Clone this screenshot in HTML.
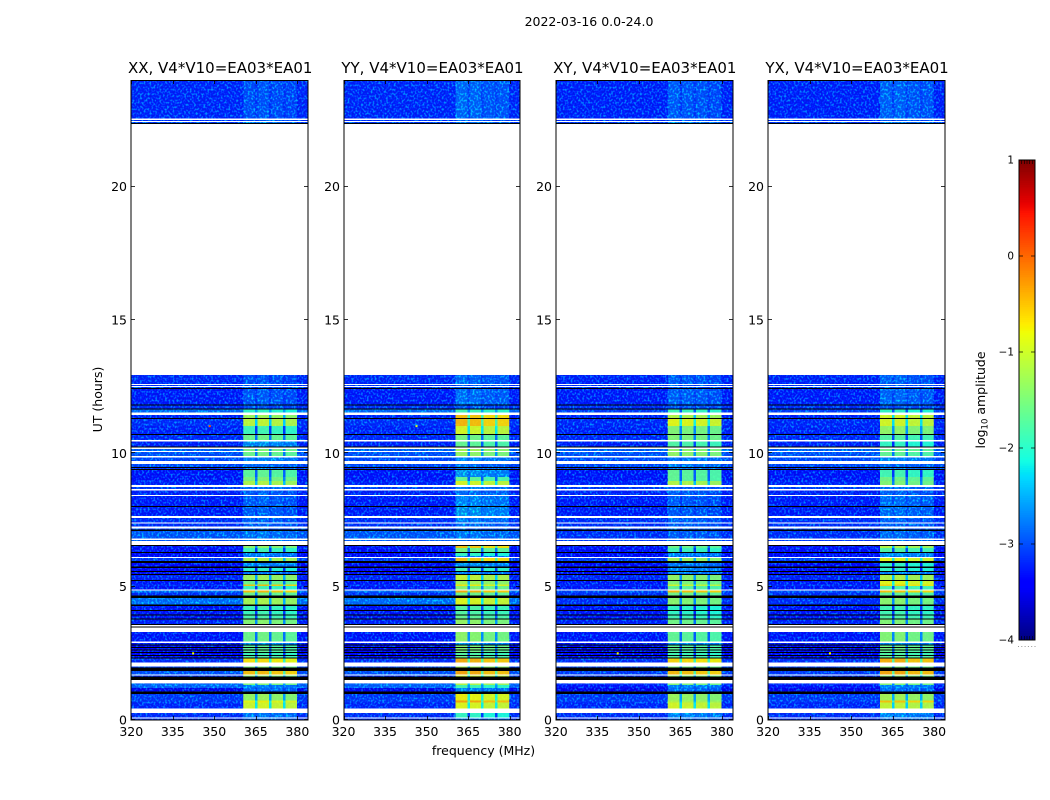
<!DOCTYPE html>
<html lang="en">
<head>
<meta charset="utf-8">
<title>Dynamic spectra 2022-03-16</title>
<style>
html,body{margin:0;padding:0;background:#fff;width:1050px;height:800px;overflow:hidden}
svg{display:block;font-family:"DejaVu Sans","Liberation Sans",sans-serif;fill:#000}
</style>
</head>
<body>
<svg id="figure" xmlns="http://www.w3.org/2000/svg" width="1050" height="800" viewBox="0 0 1050 800">
<defs>
<filter id="speckle" x="0" y="0" width="100%" height="100%" color-interpolation-filters="sRGB">
<feTurbulence type="fractalNoise" baseFrequency="0.52 0.46" numOctaves="1" seed="7"/>
<feColorMatrix type="matrix" values="0 0 0 0 0  4.2 0 0 0 -2.05  0.9 0 0 0 0.55  0 0 0 0 1"/>
</filter>
</defs>
<text x="589" y="26" font-size="12.5" text-anchor="middle">2022-03-16 0.0-24.0</text>
<text x="483.5" y="755" font-size="12.5" text-anchor="middle">frequency (MHz)</text>
<text transform="translate(102,399.5) rotate(-90)" font-size="12.5" text-anchor="middle">UT (hours)</text>
<text transform="translate(985,400) rotate(-90)" font-size="12.5" text-anchor="middle">log<tspan font-size="8.5" dy="2.5">10</tspan><tspan dy="-2.5"> amplitude</tspan></text>
</svg>
<script>
const W = null;
const K = -9;
const panelTitles = ['XX, V4*V10=EA03*EA01', 'YY, V4*V10=EA03*EA01', 'XY, V4*V10=EA03*EA01', 'YX, V4*V10=EA03*EA01'];
const freqTicks = [320, 335, 350, 365, 380];
const hourTicks = [0, 5, 10, 15, 20];
const colorTicks = [1, 0, -1, -2, -3, -4];
const bandEdges = [24,22.556,22.5,22.463,22.425,22.388,22.35,12.938,12.6,12.563,
12.525,12.488,12.45,12.413,11.831,11.794,11.681,11.644,11.531,11.438,
11.325,11.288,11.025,10.725,10.688,10.5,10.444,10.256,10.219,10.163,
10.088,10.05,9.9,9.844,9.713,9.6,9.488,9.45,9.413,9.375,
9.113,8.963,8.813,8.738,8.663,8.606,8.438,8.4,8.025,7.988,
7.65,7.575,7.406,7.369,7.256,7.181,7.144,7.088,6.806,6.75,
6.713,6.563,6.525,6.45,6.3,6.263,6.15,6.113,6.075,5.963,
5.888,5.756,5.7,5.588,5.55,5.475,5.438,5.25,5.213,5.081,
5.025,4.894,4.856,4.781,4.669,4.575,4.331,4.275,4.125,4.088,
3.956,3.919,3.806,3.769,3.6,3.563,3.506,3.469,3.3,2.944,
2.888,2.831,2.794,2.738,2.7,2.644,2.606,2.55,2.513,2.438,
2.4,2.344,2.306,2.156,2.006,1.969,1.838,1.706,1.669,1.624,
1.5,1.376,1.313,1.2,1.069,0.975,0.731,0.656,0.439,0.263,
0.094,0.056,0];
const offCopol = [-3.05,W,-3,W,-2.9,K,W,-3.05,W,-3,
W,-3,K,-3.15,K,-3,K,-2.5,W,-3.1,
K,-3,-3.1,K,-3.05,W,-3.1,K,W,-2.6,
W,-2.7,W,-2.8,W,-2.8,K,-3,K,-3.2,
-3.2,-3.1,W,-2.9,W,-3.1,W,-3.15,K,-3.15,
W,-3,W,-3,W,-2.9,K,-2.65,W,-2.6,
W,K,-3.2,-3.25,K,-3.3,-3.4,W,-2.9,K,
-3.3,K,-3.3,K,-3.3,K,-3.1,K,-3.2,-3,
-3.2,W,-2.5,-3,K,-2.45,K,-3.2,K,-3.2,
K,-3.2,K,-3.1,K,W,K,W,-3.2,W,
-3.2,K,-3.4,K,-3.4,K,-3.4,K,-3.4,K,
-3.4,K,-3,W,-2.8,K,-2.7,W,-3,K,
W,-2.5,-2.55,-3.5,K,-2.9,-2.9,-3.05,W,-3,
W,-3];
const offCross = [-3.1,W,-3,W,-2.9,K,W,-3.1,W,-3,
W,-3,K,-3.15,K,-3,K,-2.9,W,-3.1,
K,-3.05,-3.1,K,-3.05,W,-3.1,K,W,-2.6,
W,-2.7,W,-2.8,W,-2.8,K,-3,K,-3.2,
-3.2,-3.1,W,-2.9,W,-3.1,W,-3.15,K,-3.15,
W,-3,W,-3,W,-2.9,K,-3,W,-2.9,
W,K,-3.2,-3.25,K,-3.3,-3.4,W,-2.9,K,
-3.3,K,-3.3,K,-3.3,K,-3.1,K,-3.2,-3,
-3.2,W,-2.8,-3,K,-3,K,-3.2,K,-3.2,
K,-3.2,K,-3.1,K,W,K,W,-3.2,W,
-3.2,K,-3.4,K,-3.4,K,-3.4,K,-3.4,K,
-3.4,K,-3,W,-2.8,K,-2.9,W,-3,K,
W,-3,-3.2,-3.5,K,-2.9,-2.9,-3.05,W,-3,
W,-3];
const onXX = [-2.6,W,-2.6,W,-2.3,K,W,-2.6,W,-2.6,
W,-2.6,K,-2.55,K,-2.6,K,-2,W,-1.3,
K,-1.1,-1.9,K,-1.6,W,-2.1,K,W,-1.5,
W,-1.6,W,-2.2,W,-2.4,K,-2.3,K,-1.7,
-1.5,-1.2,W,-2.4,W,-2.5,W,-2.5,K,-2.5,
W,-2.5,W,-2.5,W,-2.5,K,-2.3,W,-2.3,
W,K,-1.4,-1.9,K,-2.2,-2.4,W,-1.2,K,
-2.2,K,-2,K,-2.3,K,-1.3,K,-1.6,-0.55,
-1.9,W,-0.55,-1.6,K,-1.25,K,-1.9,K,-1.9,
K,-1.8,K,-1.45,K,W,K,W,-1.6,W,
-2.1,K,-1.7,K,-1.7,K,-1.7,K,-1.9,K,
-1.8,K,-0.75,W,-1.5,K,-0.55,W,-1.4,K,
W,-1.5,-2.2,-2.4,K,-1.35,-0.85,-1,W,-2.3,
W,-2.4];
const onYY = [-2.45,W,-2.6,W,-2.3,K,W,-2.45,W,-2.6,
W,-2.6,K,-2.4,K,-2.6,K,-1.9,W,-0.6,
K,-0.55,-1,K,-1.6,W,-1.7,K,W,-1.3,
W,-1.4,W,-2.2,W,-2.4,K,-2.3,K,-2.1,
-1.7,-1,W,-2.2,W,-2.4,W,-2.2,K,-2.1,
W,-2.3,W,-2.4,W,-2.5,K,-2.3,W,-2.3,
W,K,-0.6,-1.6,K,-2,-2.2,W,-0.6,K,
-2.1,K,-1.9,K,-2.2,K,-1.1,K,-1.3,-0.8,
-1.5,W,-0.5,-1.6,K,-0.95,K,-1.8,K,-1.8,
K,-1.7,K,-1.4,K,W,K,W,-1.45,W,
-2.1,K,-1.5,K,-1.5,K,-1.6,K,-1.8,K,
-1.7,K,-0.5,W,-1.3,K,-0.45,W,-1,K,
W,-1.2,-1.9,-2.2,K,-0.85,-0.45,-0.95,W,-2,
W,-2.3];
const onXY = [-2.55,W,-2.6,W,-2.3,K,W,-2.55,W,-2.6,
W,-2.6,K,-2.5,K,-2.6,K,-1.9,W,-1.2,
K,-0.9,-1.5,K,-1.5,W,-1.8,K,W,-1.4,
W,-1.4,W,-2.3,W,-2.3,K,-2.3,K,-1.7,
-1.7,-1.2,W,-2.5,W,-2.5,W,-2.55,K,-2.55,
W,-2.5,W,-2.5,W,-2.5,K,-2.5,W,-2.4,
W,K,-1.6,-1.9,K,-2.2,-2.4,W,-1.3,K,
-2.3,K,-2.2,K,-2.3,K,-1.4,K,-1.5,-1,
-1.7,W,-0.55,-1.6,K,-1.45,K,-2,K,-2,
K,-1.9,K,-1.6,K,W,K,W,-1.7,W,
-2.1,K,-1.7,K,-1.7,K,-1.8,K,-1.9,K,
-1.8,K,-0.7,W,-1.5,K,-0.55,W,-1.4,K,
W,-1.5,-2.2,-2.4,K,-1.35,-1.2,-1,W,-2.2,
W,-2.4];
const onYX = [-2.5,W,-2.6,W,-2.3,K,W,-2.5,W,-2.6,
W,-2.6,K,-2.45,K,-2.6,K,-2,W,-1,
K,-1,-1.4,K,-1.8,W,-2,K,W,-1.6,
W,-1.7,W,-2.2,W,-2.4,K,-2.3,K,-1.9,
-1.6,-1.5,W,-2.4,W,-2.5,W,-2.4,K,-2.4,
W,-2.5,W,-2.5,W,-2.5,K,-2.4,W,-2.3,
W,K,-1.2,-1.8,K,-2.1,-2.3,W,-0.9,K,
-2,K,-2,K,-2.2,K,-1.2,K,-0.9,-0.7,
-1.8,W,-0.6,-1.7,K,-1.45,K,-1.9,K,-1.9,
K,-1.8,K,-1.5,K,W,K,W,-1.5,W,
-2.1,K,-1.6,K,-1.6,K,-1.7,K,-1.8,K,
-1.7,K,-0.5,W,-1.5,K,-0.45,W,-1.4,K,
W,-1.5,-2.2,-2.4,K,-1.3,-0.6,-1.1,W,-2.2,
W,-2.4];
const onBandLevels = [onXX, onYY, onXY, onYX];
const offBandLevels = [offCopol, offCopol, offCross, offCross];
const freqEdges = [320, 360.4, 364.7, 365.6, 369.7, 370.6, 374.8, 375.7, 379.9, 383.9];
const freqKinds = ['off', 0, 'gap', 1, 'gap', 2, 'gap', 3, 'off'];
const gainXX = [0.04, 0.08, 0, -0.06];
const gainYY = [0.1, 0.06, -0.06, -0.06];
const gainXY = [0.08, 0.04, 0, -0.06];
const gainYX = [0.08, 0.08, -0.02, -0.04];
const subbandGains = [gainXX, gainYY, gainXY, gainYX];
const rfiPanel = [0, 1, 0, 2, 3];
const rfiFreq = [348, 346, 342, 342, 342];
const rfiHour = [11.02, 11.02, 2.5, 2.5, 2.5];
const rfiLevel = [0.1, -0.9, -0.8, -0.8, -0.8];

const svg = document.getElementById('figure');
const NS = 'http://www.w3.org/2000/svg';
const axLeft = 131.25, axWidth = 176.9, axStep = 212.28, axTop = 80, axBottom = 720;
const hourMax = 24, freqMin = 320, freqMax = 383.9;
const faintLimit = -2.0, faintDrop = 0.2, gapDropFaint = 0.4, gapDropStrong = 1.2, offDrop = 0.06;

function freqToX(panel, f) {
  return axLeft + panel * axStep + (f - freqMin) / (freqMax - freqMin) * axWidth;
}
function hourToY(h) {
  return axBottom - h / hourMax * (axBottom - axTop);
}
function jetChannel(t, pts) {
  for (let i = 1; i < pts.length; i++) {
    if (t <= pts[i][0]) {
      const a = pts[i - 1], b = pts[i];
      return a[1] + (b[1] - a[1]) * (t - a[0]) / (b[0] - a[0]);
    }
  }
  return pts[pts.length - 1][1];
}
const jetR = [[0,0],[0.35,0],[0.66,1],[0.89,1],[1,0.5]];
const jetG = [[0,0],[0.125,0],[0.375,1],[0.64,1],[0.91,0],[1,0]];
const jetB = [[0,0.5],[0.11,1],[0.34,1],[0.65,0],[1,0]];
function levelColor(v) {
  if (v === K) return '#000';
  const t = Math.max(0, Math.min(1, (v + 4) / 5));
  const c = [jetR, jetG, jetB].map(p => Math.round(255 * jetChannel(t, p)));
  return 'rgb(' + c.join(',') + ')';
}
function make(tag, attrs, parent) {
  const el = document.createElementNS(NS, tag);
  for (const k in attrs) el.setAttribute(k, attrs[k]);
  parent.appendChild(el);
  return el;
}

panelTitles.forEach((title, p) => {
  const panel = make('g', {}, svg);
  
  
  const heat = make('g', {'shape-rendering': 'crispEdges'}, panel);
  
  
  const clip = make('clipPath', {id: 'noise-clip-' + p}, panel);
  
  
  const clipFaint = make('clipPath', {id: 'noise-faint-' + p}, panel);
  
  
  const clipStrong = make('clipPath', {id: 'noise-strong-' + p}, panel);
  
  
  const off = offBandLevels[p], on = onBandLevels[p], gains = subbandGains[p];
  for (let b = 0; b < bandEdges.length - 1; b++) {
    if (off[b] === W) continue;
    const y0 = hourToY(bandEdges[b]), y1 = hourToY(bandEdges[b + 1]);
    if (off[b] === K) {
      const line = make('rect', {x: freqToX(p, freqMin), y: y0, width: axWidth, height: y1 - y0, fill: '#000'}, heat);
      
      
      continue;
    }
    const faint = on[b] < faintLimit;
    freqKinds.forEach((kind, s) => {
      let v = off[b] - offDrop;
      if (kind === 'gap') {
        v = Math.max(off[b] - offDrop, on[b] - (faint ? gapDropFaint : gapDropStrong));
      } else if (kind !== 'off') {
        v = on[b] + gains[kind] - (faint ? faintDrop : 0);
      }
      const x0 = freqToX(p, freqEdges[s]), x1 = freqToX(p, freqEdges[s + 1]);
      const cell = make('rect', {x: x0, y: y0, width: x1 - x0, height: y1 - y0, fill: levelColor(v)}, heat);
      
      
    });
    const cr = make('rect', {x: freqToX(p, freqMin), y: y0, width: axWidth, height: y1 - y0}, clip);
    
    
    const cz = make('rect', {x: freqToX(p, freqMin), y: y0, width: axWidth, height: y1 - y0}, faint ? clipFaint : clipStrong);
    
    
  }
  const noiseOff = make('g', {'clip-path': 'url(#noise-clip-' + p + ')', opacity: 0.45}, panel);
  
  
  [[freqMin, freqEdges[1]], [freqEdges[8], freqMax]].forEach(r => {
    const x0 = freqToX(p, r[0]), x1 = freqToX(p, r[1]);
    const n = make('rect', {x: x0, y: axTop, width: x1 - x0, height: axBottom - axTop, filter: 'url(#speckle)'}, noiseOff);
    
    
  });
  const nx0 = freqToX(p, freqEdges[1]), nx1 = freqToX(p, freqEdges[8]);
  const noiseFaint = make('g', {'clip-path': 'url(#noise-faint-' + p + ')', opacity: 0.45}, panel);
  
  
  const nF = make('rect', {x: nx0, y: axTop, width: nx1 - nx0, height: axBottom - axTop, filter: 'url(#speckle)'}, noiseFaint);
  
  
  const noiseOn = make('g', {'clip-path': 'url(#noise-strong-' + p + ')', opacity: 0.06}, panel);
  
  
  const nOn = make('rect', {x: nx0, y: axTop, width: nx1 - nx0, height: axBottom - axTop, filter: 'url(#speckle)'}, noiseOn);
  
  

  rfiPanel.forEach((rp, i) => {
    if (rp !== p) return;
    const dot = make('rect', {x: freqToX(p, rfiFreq[i]), y: hourToY(rfiHour[i]) - 1, width: 2, height: 2, fill: levelColor(rfiLevel[i])}, panel);
    
    
  });

  const left = Math.round(freqToX(p, freqMin)), right = Math.round(freqToX(p, freqMin) + axWidth);
  const frame = make('rect', {x: left, y: axTop + 0.5, width: right - left, height: axBottom - axTop - 0.5, fill: 'none', stroke: '#000', 'stroke-width': 1}, panel);
  
  

  freqTicks.forEach(f => {
    const x = Math.round(freqToX(p, f)) + 0.5;
    [[axBottom, axBottom - 4], [axTop, axTop + 4]].forEach(e => {
      const t = make('line', {x1: x, x2: x, y1: e[0], y2: e[1], stroke: '#000', 'stroke-width': 0.8}, panel);
      
      
    });
    const lab = make('text', {x: freqToX(p, f), y: 736, 'font-size': 12.5, 'text-anchor': 'middle'}, panel);
    
    
    lab.textContent = f;
  });
  hourTicks.forEach(h => {
    const y = Math.round(hourToY(h)) - 0.5;
    [[left, left + 4], [right, right - 4]].forEach(e => {
      const t = make('line', {x1: e[0], x2: e[1], y1: y, y2: y, stroke: '#000', 'stroke-width': 0.8}, panel);
      
      
    });
    const lab = make('text', {x: left - 4, y: hourToY(h) + 4.5, 'font-size': 12.5, 'text-anchor': 'end'}, panel);
    
    
    lab.textContent = h;
  });
  const tt = make('text', {x: freqToX(p, freqMin) + axWidth / 2 + 0.5, y: 73, 'font-size': 15, 'text-anchor': 'middle'}, panel);
  
  
  tt.textContent = title;
});

const cbar = make('g', {}, svg);


const cbX = 1019, cbW = 16, cbTop = 160, cbBottom = 640;
function levelToCbY(v) {
  return cbBottom - (v + 4) / 5 * (cbBottom - cbTop);
}
const cbGrad = make('g', {'shape-rendering': 'crispEdges'}, cbar);


const cbSteps = 256;
for (let i = 0; i < cbSteps; i++) {
  const v0 = -4 + 5 * i / cbSteps, v1 = -4 + 5 * (i + 1) / cbSteps;
  const r = make('rect', {x: cbX, y: levelToCbY(v1), width: cbW, height: levelToCbY(v0) - levelToCbY(v1) + 0.5, fill: levelColor((v0 + v1) / 2)}, cbGrad);
  
  
}
const cbFrame = make('rect', {x: cbX, y: cbTop, width: cbW, height: cbBottom - cbTop, fill: 'none', stroke: '#000', 'stroke-width': 1}, cbar);


colorTicks.forEach(v => {
  const y = levelToCbY(v);
  [[cbX, cbX + 4], [cbX + cbW, cbX + cbW - 4]].forEach(e => {
    const t = make('line', {x1: e[0], x2: e[1], y1: y, y2: y, stroke: '#000', 'stroke-width': 0.7}, cbar);
    
    
  });
  const lab = make('text', {x: cbX - 5, y: y + 3.5, 'font-size': 10.4, 'text-anchor': 'end'}, cbar);
  
  
  lab.textContent = String(v).replace('-', '\u2212');
});
[1, 2, 3, 4, 5].forEach(i => {
  const x = cbX + i * cbW / 6;
  [[cbTop, cbTop + 4], [cbBottom, cbBottom - 4]].forEach(e => {
    const t = make('line', {x1: x, x2: x, y1: e[0], y2: e[1], stroke: '#000', 'stroke-width': 0.6}, cbar);
    
    
  });
});
[0, 1, 2, 3, 4, 5].forEach(i => {
  const d = make('rect', {x: cbX - 1 + i * 3.3, y: 646, width: 1, height: 1, fill: '#999'}, cbar);
  
  
});
</script>
</body>
</html>
